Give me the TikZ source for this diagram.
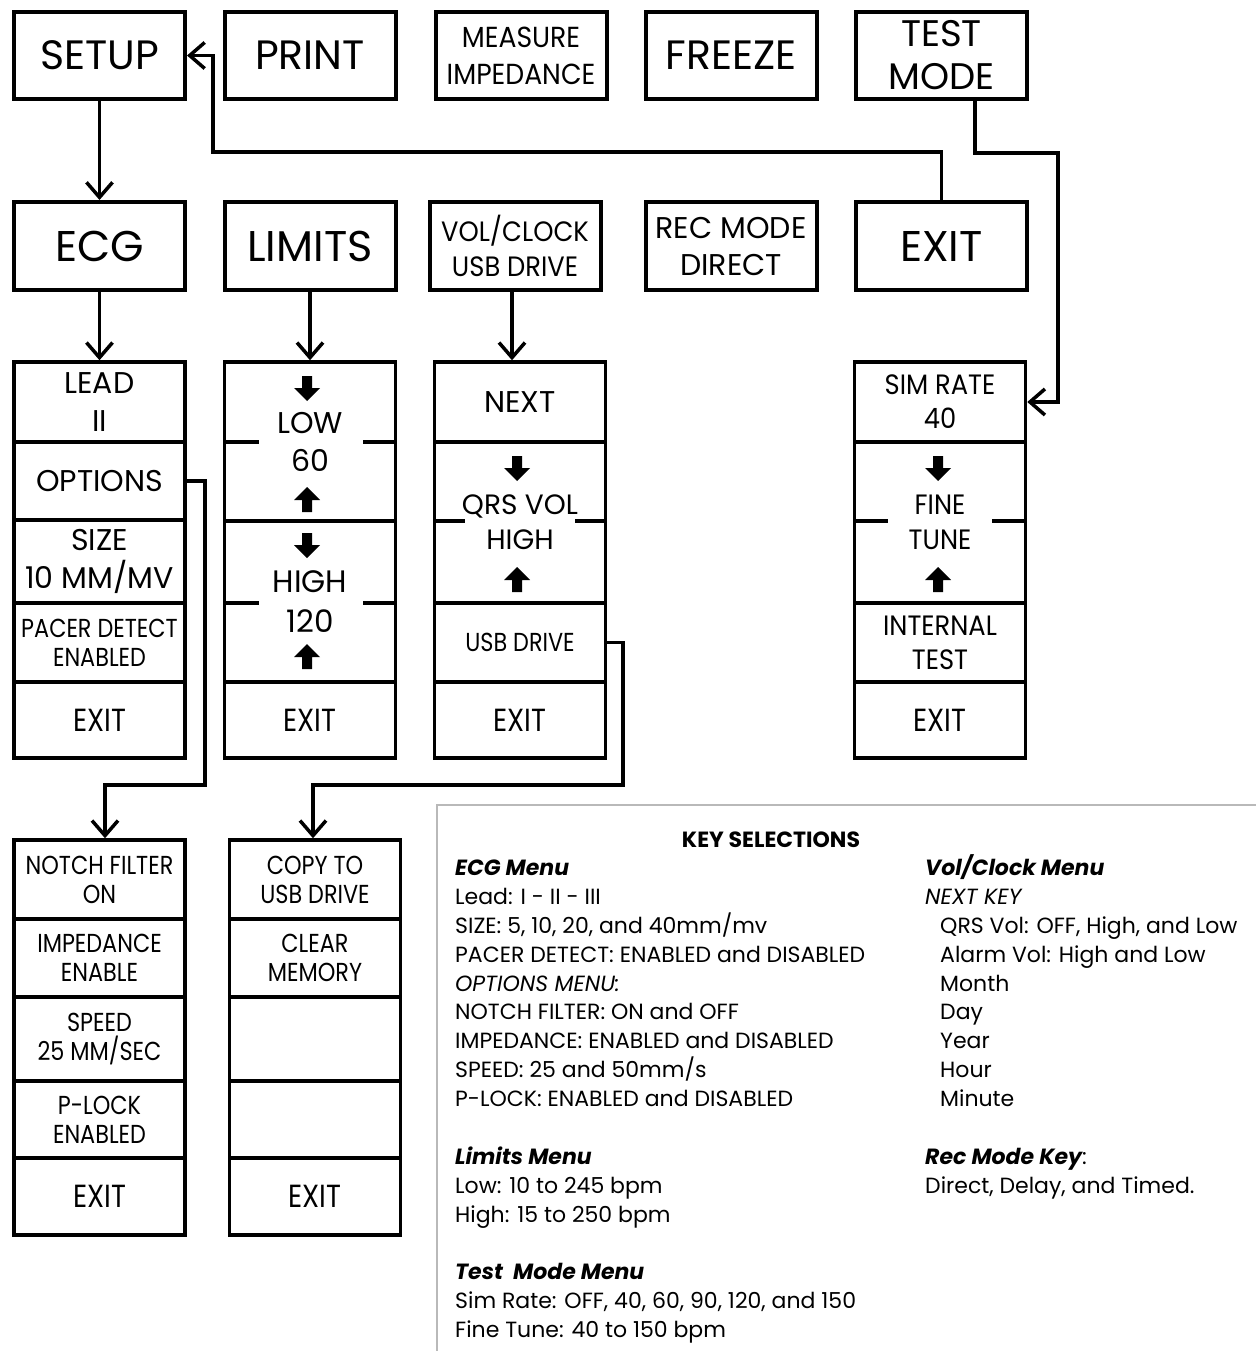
\documentclass[tikz,border=0pt]{standalone}
\usepackage{fontspec}
\setmainfont{Poppins}[FakeStretch=0.86]
\newfontfamily\keyfont{Poppins}
\newfontfamily\wfont{Poppins}
\newfontfamily\mfont{Poppins}[FakeStretch=0.92]
\usetikzlibrary{arrows.meta}
\newcommand{\fsz}[2]{\fontsize{#1}{#2}\selectfont}
\newcommand{\blkdn}[2]{\fill[shift={(#1,#2)}] (-5,-12) -- (5,-12) -- (5,0) -- (13,0) -- (0,13) -- (-13,0) -- (-5,0) -- cycle;}
\newcommand{\blkup}[2]{\fill[shift={(#1,#2)}] (-5,12) -- (5,12) -- (5,0) -- (13,0) -- (0,-13) -- (-13,0) -- (-5,0) -- cycle;}
\begin{document}
\begin{tikzpicture}[x=1pt,y=-1pt,
  box/.style={draw, line width=4pt, inner sep=0pt, align=center, minimum width=171pt},
  cell/.style={draw, line width=3.5pt, inner sep=0pt, align=center, minimum width=171pt},
  conn/.style={line width=3.5pt, -{Straight Barb[length=15pt,width=26pt]}},
  divider/.style={line width=3.5pt},
  keyt/.style={anchor=base west, inner sep=0pt, font=\keyfont\fsz{22}{26}},
  big/.style={font=\wfont\fsz{41}{46}},
  bigb/.style={font=\wfont\fsz{43}{46}},
  mid/.style={font=\wfont\fsz{30}{37}},
  colt/.style={font=\wfont\fsz{30}{38}},
  small/.style={font=\fsz{26}{29}},
  exitt/.style={font=\fsz{32}{36}}]
\useasboundingbox (0,0) rectangle (1256,1351);
% top row
\node[box, big, minimum height=87pt] (setup) at (99.5,55.5) {SETUP};
\node[box, big, minimum height=87pt] (print) at (310,55.5) {PRINT};
\node[box, font=\mfont\fsz{29}{37}, minimum height=87pt] (measure) at (521,55.5) {MEASURE\\IMPEDANCE};
\node[box, big, minimum height=87pt] (freeze) at (731,55.5) {FREEZE};
\node[box, font=\wfont\fsz{37}{43}, minimum height=87pt] (testmode) at (941.5,55.5) {TEST\\MODE};
% second row
\node[box, bigb, minimum height=88pt] (ecg) at (99.5,246) {ECG};
\node[box, bigb, minimum height=88pt] (limits) at (310,246) {LIMITS};
\node[box, font=\mfont\fsz{28}{35}, minimum height=88pt] (volclock) at (515,246) {VOL/CLOCK\\USB DRIVE};
\node[box, mid, minimum height=88pt] (recmode) at (731,246) {REC MODE\\DIRECT};
\node[box, bigb, minimum height=88pt] (exit) at (941.5,246) {EXIT};
% ECG column
\node[cell, colt, minimum height=80pt] (lead) at (99.5,402) {LEAD\\II};
\node[cell, colt, minimum height=78pt] (options) at (99.5,481) {OPTIONS};
\node[cell, colt, minimum height=83pt] (size) at (99.5,561.5) {SIZE\\10 MM/MV};
\node[cell, small, minimum height=79pt] (pacer) at (99.5,642.5) {PACER DETECT\\ENABLED};
\node[cell, exitt, minimum height=76pt] (ecgexit) at (99.5,720) {EXIT};
% Limits column
\node[cell, colt, minimum height=159pt] (low) at (310,441.5) {LOW\\60};
\node[cell, font=\wfont\fsz{31}{40}, minimum height=161pt] (high) at (310,601.5) {HIGH\\120};
\node[cell, exitt, minimum height=76pt] (limexit) at (310,720) {EXIT};
\draw[divider] (223,442) -- (259,442) (363,442) -- (397,442);
\draw[divider] (223,603) -- (259,603) (363,603) -- (397,603);
\blkdn{307}{388}\blkup{307}{500}\blkdn{307}{545}\blkup{307}{657}
% Vol column
\node[cell, colt, minimum height=80pt] (next) at (520,402) {NEXT};
\node[cell, font=\wfont\fsz{28}{35}, minimum height=161pt] (qrs) at (520,522.5) {QRS VOL\\HIGH};
\node[cell, small, minimum height=79pt] (usb) at (520,642.5) {USB DRIVE};
\node[cell, exitt, minimum height=76pt] (volexit) at (520,720) {EXIT};
\draw[divider] (433,521) -- (465,521) (575,521) -- (607,521);
\blkdn{517}{468}\blkup{517}{580}
% Test column
\node[cell, font=\mfont\fsz{28}{34}, minimum height=80pt] (simrate) at (940,402) {SIM RATE\\40};
\node[cell, font=\mfont\fsz{28}{35}, minimum height=161pt] (fine) at (940,522.5) {FINE\\TUNE};
\node[cell, font=\mfont\fsz{28}{34}, minimum height=79pt] (internal) at (940,642.5) {INTERNAL\\TEST};
\node[cell, exitt, minimum height=76pt] (testexit) at (940,720) {EXIT};
\draw[divider] (853,521) -- (888,521) (992,521) -- (1027,521);
\blkdn{938}{468}\blkup{938}{580}
% Options column
\node[cell, small, minimum height=79pt] (notch) at (99.5,879.5) {NOTCH FILTER\\ON};
\node[cell, small, minimum height=78pt] (imped) at (99.5,958) {IMPEDANCE\\ENABLE};
\node[cell, small, minimum height=84pt] (speed) at (99.5,1039) {SPEED\\25 MM/SEC};
\node[cell, small, minimum height=77pt] (plock) at (99.5,1119.5) {P-LOCK\\ENABLED};
\node[cell, exitt, minimum height=77pt] (optexit) at (99.5,1196.5) {EXIT};
% USB column
\node[cell, small, minimum height=79pt] (copy) at (315,879.5) {COPY TO\\USB DRIVE};
\node[cell, small, minimum height=78pt] (clear) at (315,958) {CLEAR\\MEMORY};
\node[cell, minimum height=84pt] (blank1) at (315,1039) {};
\node[cell, minimum height=77pt] (blank2) at (315,1119.5) {};
\node[cell, exitt, minimum height=77pt] (usbexit) at (315,1196.5) {EXIT};
% connectors
\draw[conn] (setup.south) -- (ecg.north);
\draw[conn] (ecg.south) -- (lead.north);
\draw[conn] (limits.south) -- (low.north);
\coordinate (vc) at (512,292);
\draw[conn] (vc) -- (vc |- next.north);
\coordinate (ex1) at (213,152);
\draw[conn] (exit.north) |- (ex1) |- (setup.east);
\coordinate (tm1) at (975,153);
\coordinate (tm2) at (1058,153);
\draw[conn] (tm1 |- testmode.south) -- (tm1) -- (tm2) |- (simrate.east);
\coordinate (op1) at (205,785);
\coordinate (op2) at (105,785);
\draw[conn] (options.east) -| (op1) -- (op2) -- (op2 |- notch.north);
\coordinate (us1) at (623,785);
\coordinate (us2) at (313,785);
\draw[conn] (usb.east) -| (us1) -- (us2) -- (us2 |- copy.north);
% key selections
\draw[gray!55, line width=1.5pt] (437,1351) -- (437,805) -- (1256,805);
\node[anchor=base, inner sep=0pt, font=\keyfont\bfseries\fsz{22}{26}] (ktitle) at (771,847) {KEY SELECTIONS};
\node[keyt] (k1) at (455,875) {\bfseries\itshape ECG Menu};
\node[keyt] (k2) at (455,904) {Lead: I - II - III};
\node[keyt] (k3) at (455,933) {SIZE: 5, 10, 20, and 40mm/mv};
\node[keyt] (k4) at (455,962) {PACER DETECT: ENABLED and DISABLED};
\node[keyt] (k5) at (455,991) {\itshape OPTIONS MENU:};
\node[keyt] (k6) at (455,1019) {NOTCH FILTER: ON and OFF};
\node[keyt] (k7) at (455,1048) {IMPEDANCE: ENABLED and DISABLED};
\node[keyt] (k8) at (455,1077) {SPEED: 25 and 50mm/s};
\node[keyt] (k9) at (455,1106) {P-LOCK: ENABLED and DISABLED};
\node[keyt] (k10) at (455,1164) {\bfseries\itshape Limits Menu};
\node[keyt] (k11) at (455,1193) {Low: 10 to 245 bpm};
\node[keyt] (k12) at (455,1222) {High: 15 to 250 bpm};
\node[keyt] (k13) at (455,1279) {\bfseries\itshape Test\ \ Mode Menu};
\node[keyt] (k14) at (455,1308) {Sim Rate: OFF, 40, 60, 90, 120, and 150};
\node[keyt] (k15) at (455,1337) {Fine Tune: 40 to 150 bpm};
\node[keyt] (r1) at (925,875) {\bfseries\itshape Vol/Clock Menu};
\node[keyt] (r2) at (925,904) {\itshape NEXT KEY};
\node[keyt] (r3) at (940,933) {QRS Vol: OFF, High, and Low};
\node[keyt] (r4) at (940,962) {Alarm Vol: High and Low};
\node[keyt] (r5) at (940,991) {Month};
\node[keyt] (r6) at (940,1019) {Day};
\node[keyt] (r7) at (940,1048) {Year};
\node[keyt] (r8) at (940,1077) {Hour};
\node[keyt] (r9) at (940,1106) {Minute};
\node[keyt] (r10) at (925,1164) {{\bfseries\itshape Rec Mode Key}:};
\node[keyt] (r11) at (925,1193) {Direct, Delay, and Timed.};
\end{tikzpicture}
\end{document}
